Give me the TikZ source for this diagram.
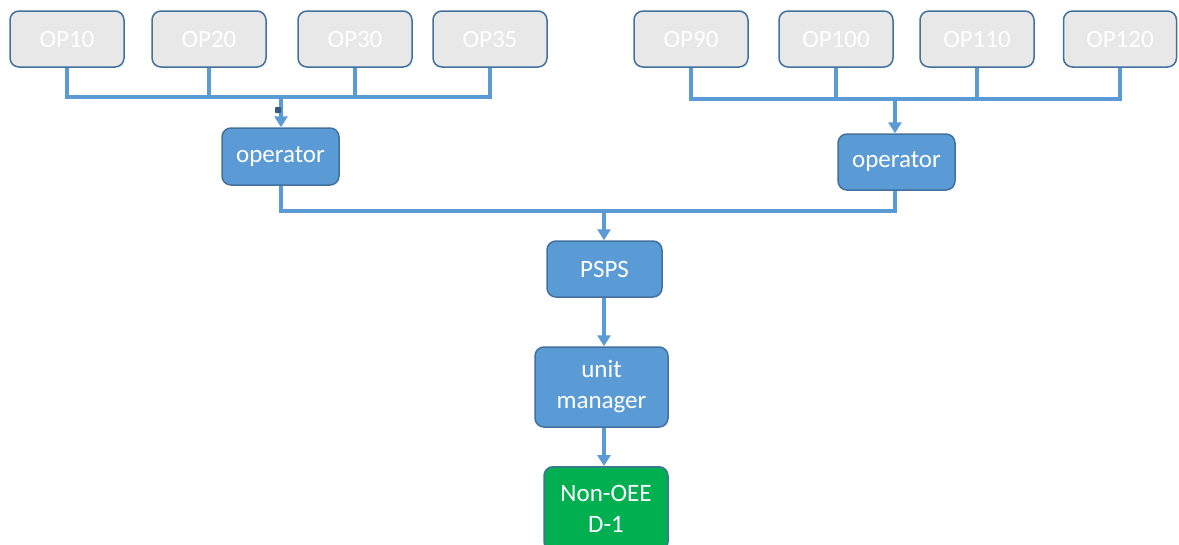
\documentclass[tikz,border=0pt]{standalone}
\usepackage{fontspec}
\setmainfont{Carlito}
\usetikzlibrary{arrows.meta}
\definecolor{gfill}{HTML}{E8E8E8}
\definecolor{bord}{HTML}{41719C}
\definecolor{bfill}{HTML}{5B9BD5}
\definecolor{line}{HTML}{5B9BD5}
\definecolor{gr}{HTML}{00B050}
\begin{document}
\begin{tikzpicture}[x=1pt,y=-1pt,
  box/.style={draw=bord,line width=1.5pt,rounded corners=9pt,inner sep=0pt,align=center,font=\fontsize{25}{31}\selectfont},
  opbox/.style={box,fill=gfill,text=white,minimum width=114pt,minimum height=56pt},
  bluebox/.style={box,fill=bfill,text=white},
  conn/.style={draw=line,line width=3.2pt},
  arr/.style={conn,-{Triangle[length=11pt,width=13pt]}}]
\path[use as bounding box] (0,0) rectangle (1179,544);
\node[opbox] (op10) at (67,39) {OP10};
\node[opbox] (op20) at (209,39) {OP20};
\node[opbox] (op30) at (355,39) {OP30};
\node[opbox] (op35) at (490,39) {OP35};
\node[opbox] (op90) at (691,39) {OP90};
\node[opbox] (op100) at (836,39) {OP100};
\node[opbox] (op110) at (977,39) {OP110};
\node[opbox,minimum width=113pt] (op120) at (1120,39) {OP120};
\node[bluebox,minimum width=117pt,minimum height=57pt] (opl) at (280.5,156.5) {operator};
\node[bluebox,minimum width=117pt,minimum height=56pt] (opr) at (896.5,162) {operator};
\node[bluebox,minimum width=115pt,minimum height=56pt] (psps) at (604.5,269) {PSPS};
\node[bluebox,minimum width=133pt,minimum height=80pt] (um) at (601.5,387) {unit\\manager};
\node[box,fill=gr,text=white,minimum width=124pt,minimum height=84pt,anchor=north] (non) at (606,466) {Non-OEE\\D-1};
\coordinate (bl) at (281,97);
\coordinate (br) at (895,99);
\coordinate (bm) at (604,211);
% left bus
\draw[conn] (op10.south) |- (op35.south |- bl) -- (op35.south);
\draw[conn] (op20.south) -- (op20.south |- bl);
\draw[conn] (op30.south) -- (op30.south |- bl);
\draw[arr] (bl) -- (bl |- opl.north);
% right bus
\draw[conn] (op90.south) |- (op120.south |- br) -- (op120.south);
\draw[conn] (op100.south) -- (op100.south |- br);
\draw[conn] (op110.south) -- (op110.south |- br);
\draw[arr] (br) -- (br |- opr.north);
% to PSPS
\draw[conn] (opl.south -| bl) |- (bm) -| (opr.south -| br);
\draw[arr] (bm) -- (bm |- psps.north);
\draw[arr] (psps.south -| bm) -- (bm |- um.north);
\draw[arr] (um.south -| bm) -- (bm |- non.north);
\fill[bord!80!black,rounded corners=0.8pt] (275,107) rectangle (281,113);
\end{tikzpicture}
\end{document}
